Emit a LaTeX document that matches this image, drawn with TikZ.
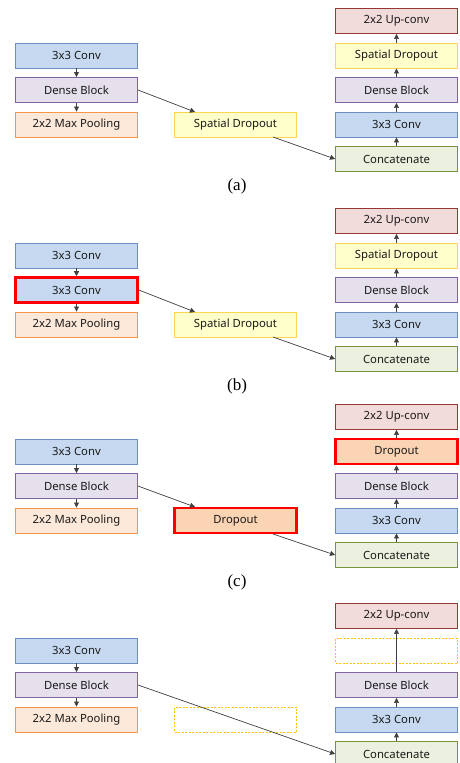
\documentclass[tikz,border=0pt]{standalone}
\usepackage{fontspec}
\setmainfont{Liberation Serif}
\newfontfamily\boxfont{Noto Sans}
\usetikzlibrary{arrows.meta}
\definecolor{convfill}{HTML}{C6D9F1}
\definecolor{convdraw}{HTML}{6C8EBF}
\definecolor{densefill}{HTML}{E5E0EC}
\definecolor{densedraw}{HTML}{8064A2}
\definecolor{poolfill}{HTML}{FDE9D9}
\definecolor{pooldraw}{HTML}{F79646}
\definecolor{spfill}{HTML}{FFFFCC}
\definecolor{spdraw}{HTML}{FFD54F}
\definecolor{upfill}{HTML}{F2DCDB}
\definecolor{updraw}{HTML}{953735}
\definecolor{catfill}{HTML}{EBF1DE}
\definecolor{catdraw}{HTML}{77933C}
\definecolor{dropfill}{HTML}{FBD4B4}
\definecolor{hired}{HTML}{FF0000}
\definecolor{arr}{HTML}{404040}
\definecolor{ghostdraw}{HTML}{FFC000}
\tikzset{
  blk/.style={rectangle, minimum width=122pt, minimum height=25pt, inner sep=0pt,
    line width=0.9pt, text=black!90, font=\boxfont\fontsize{11.3}{13}\selectfont},
  conv/.style={blk, fill=convfill, draw=convdraw},
  dense/.style={blk, fill=densefill, draw=densedraw},
  pool/.style={blk, fill=poolfill, draw=pooldraw},
  sdrop/.style={blk, fill=spfill, draw=spdraw},
  upc/.style={blk, fill=upfill, draw=updraw},
  cat/.style={blk, fill=catfill, draw=catdraw},
  drop/.style={blk, fill=dropfill},
  hilite/.style={draw=hired, line width=2.6pt},
  ghost/.style={blk, draw=ghostdraw, dash pattern=on 2pt off 1.5pt, line width=0.7pt},
  flow/.style={draw=arr, line width=0.7pt, -{Triangle[length=5pt,width=5pt]}},
  captxt/.style={font=\fontsize{17}{19}\selectfont}
}
\begin{document}
\begin{tikzpicture}[x=1pt,y=-1pt]
\useasboundingbox[fill=white] (0,0) rectangle (459,763);
% ---------- panel (a) ----------
\begin{scope}[shift={(0,0)}]
\node[conv]  (a1) at (76.5,55.5) {3x3 Conv};
\node[dense] (a2) at (76.5,90) {Dense Block};
\node[pool]  (a3) at (76.5,124.5) {2x2 Max Pooling};
\node[sdrop] (am) at (235.5,124.5) {Spatial Dropout};
\node[upc]   (ar1) at (396.5,21) {2x2 Up-conv};
\node[sdrop] (ar2) at (396.5,55.5) {Spatial Dropout};
\node[dense] (ar3) at (396.5,90) {Dense Block};
\node[conv]  (ar4) at (396.5,124.5) {3x3 Conv};
\node[cat]   (ar5) at (396.5,159) {Concatenate};
\node[captxt] (capa) at (237,186) {(a)};
\coordinate (amt) at (195,112);
\coordinate (amb) at (273,137);
\draw[flow] (a1) -- (a2);
\draw[flow] (a2) -- (a3);
\draw[flow] (a2.east) -- (amt);
\draw[flow] (amb) -- (ar5.west);
\draw[flow] (ar5) -- (ar4);
\draw[flow] (ar4) -- (ar3);
\draw[flow] (ar3) -- (ar2);
\draw[flow] (ar2) -- (ar1);
\end{scope}
% ---------- panel (b) ----------
\begin{scope}[shift={(0,200)}]
\node[conv]  (b1) at (76.5,55.5) {3x3 Conv};
\node[conv, hilite] (b2) at (76.5,90) {3x3 Conv};
\node[pool]  (b3) at (76.5,124.5) {2x2 Max Pooling};
\node[sdrop] (bm) at (235.5,124.5) {Spatial Dropout};
\node[upc]   (br1) at (396.5,21) {2x2 Up-conv};
\node[sdrop] (br2) at (396.5,55.5) {Spatial Dropout};
\node[dense] (br3) at (396.5,90) {Dense Block};
\node[conv]  (br4) at (396.5,124.5) {3x3 Conv};
\node[cat]   (br5) at (396.5,159) {Concatenate};
\node[captxt] (capb) at (237,186) {(b)};
\coordinate (bmt) at (195,112);
\coordinate (bmb) at (273,137);
\draw[flow] (b1) -- (b2);
\draw[flow] (b2) -- (b3);
\draw[flow] (b2.east) -- (bmt);
\draw[flow] (bmb) -- (br5.west);
\draw[flow] (br5) -- (br4);
\draw[flow] (br4) -- (br3);
\draw[flow] (br3) -- (br2);
\draw[flow] (br2) -- (br1);
\end{scope}
% ---------- panel (c) ----------
\begin{scope}[shift={(0,396)}]
\node[conv]  (c1) at (76.5,55.5) {3x3 Conv};
\node[dense] (c2) at (76.5,90) {Dense Block};
\node[pool]  (c3) at (76.5,124.5) {2x2 Max Pooling};
\node[drop, hilite] (cm) at (235.5,124.5) {Dropout};
\node[upc]   (cr1) at (396.5,21) {2x2 Up-conv};
\node[drop, hilite] (cr2) at (396.5,55.5) {Dropout};
\node[dense] (cr3) at (396.5,90) {Dense Block};
\node[conv]  (cr4) at (396.5,124.5) {3x3 Conv};
\node[cat]   (cr5) at (396.5,159) {Concatenate};
\node[captxt] (capc) at (237,186) {(c)};
\coordinate (cmt) at (195,111);
\coordinate (cmb) at (273,138);
\draw[flow] (c1) -- (c2);
\draw[flow] (c2) -- (c3);
\draw[flow] (c2.east) -- (cmt);
\draw[flow] (cmb) -- (cr5.west);
\draw[flow] (cr5) -- (cr4);
\draw[flow] (cr4) -- (cr3);
\draw[flow] (cr3) -- (cr2);
\draw[flow] (cr2) -- (cr1);
\end{scope}
% ---------- panel (d) ----------
\begin{scope}[shift={(0,595)}]
\node[conv]  (d1) at (76.5,55.5) {3x3 Conv};
\node[dense] (d2) at (76.5,90) {Dense Block};
\node[pool]  (d3) at (76.5,124.5) {2x2 Max Pooling};
\node[ghost] (dm) at (235.5,124.5) {};
\node[upc]   (dr1) at (396.5,21) {2x2 Up-conv};
\node[ghost] (dr2) at (396.5,55.5) {};
\node[dense] (dr3) at (396.5,90) {Dense Block};
\node[conv]  (dr4) at (396.5,124.5) {3x3 Conv};
\node[cat]   (dr5) at (396.5,159) {Concatenate};
\draw[flow] (d1) -- (d2);
\draw[flow] (d2) -- (d3);
\draw[flow] (d2.east) -- (dr5.west);
\draw[flow] (dr5) -- (dr4);
\draw[flow] (dr4) -- (dr3);
\draw[flow] (dr3) -- (dr1);
\end{scope}
\end{tikzpicture}
\end{document}
